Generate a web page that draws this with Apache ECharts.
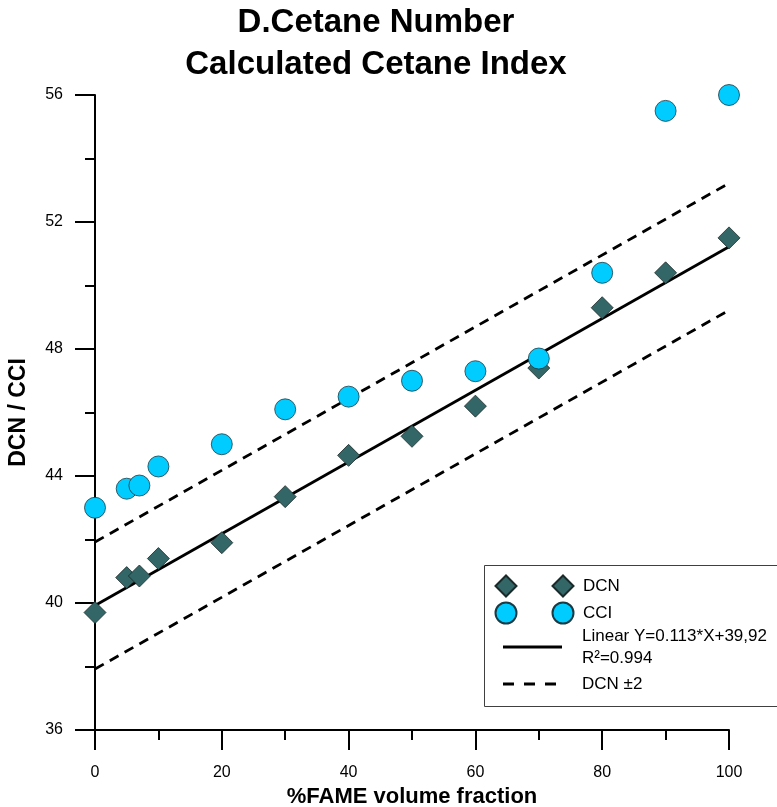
<!DOCTYPE html>
<html>
<head>
<meta charset="utf-8">
<script src="https://cdn.jsdelivr.net/npm/echarts@6/dist/echarts.min.js"></script>
<style>
  html, body { margin: 0; padding: 0; background: #fff; }
  #chart { width: 777px; height: 807px; }
</style>
</head>
<body>
<div id="chart"></div>
<script>
// FAME blend fraction (% vol) and the two cetane measures
const fameFraction = [0, 5, 7, 10, 20, 30, 40, 50, 60, 70, 80, 90, 100];
const dcnValues = [39.7, 40.8, 40.85, 41.4, 41.9, 43.35, 44.65, 45.25, 46.2, 47.4, 49.3, 50.4, 51.5];
const cciValues = [43.0, 43.6, 43.7, 44.3, 45.0, 46.1, 46.5, 47.0, 47.3, 47.7, 50.4, 55.5, 56.0];

// Linear fit of DCN and its +/-2 band
const fitSlope = 0.113;
const fitIntercept = 39.92;
const bandHalfWidth = 2;
const fitRange = [0, 100];

// Axis ticks
const xTicks = [0, 20, 40, 60, 80, 100];
const yTicks = [36, 40, 44, 48, 52, 56];

const FONT = '"Liberation Sans", Arial, Helvetica, sans-serif';
const DCN_COLOR = '#336666';
const CCI_COLOR = '#00CCFF';

const names = {
  dcn: 'DCN',
  cci: 'CCI',
  fit: 'Linear Y=0.113*X+39,92\nR\u00B2=0.994',
  band: 'DCN \u00B12'
};

const pairs = (xs, ys) => xs.map((x, i) => [x, ys[i]]);
const fitAt = (x, off) => [x, +(fitIntercept + fitSlope * x + off).toFixed(4)];

const chart = echarts.init(document.getElementById('chart'), null, { renderer: 'canvas' });

const legendText = { fontFamily: FONT, fontSize: 17, color: '#000' };

chart.setOption({
  backgroundColor: '#fff',
  animation: false,
  title: {
    text: 'D.Cetane Number\nCalculated Cetane Index',
    left: 376,
    top: 2,
    padding: 0,
    textAlign: 'center',
    textStyle: { fontFamily: FONT, fontSize: 33, fontWeight: 'bold', lineHeight: 42, color: '#000' }
  },
  grid: { left: 95, right: 48, top: 95, bottom: 77, containLabel: false, outerBoundsMode: 'none' },
  xAxis: {
    type: 'value',
    min: xTicks[0],
    max: xTicks[xTicks.length - 1],
    interval: xTicks[1] - xTicks[0],
    name: '%FAME volume fraction',
    nameLocation: 'middle',
    nameGap: 55,
    nameTextStyle: { fontFamily: FONT, fontSize: 22, fontWeight: 'bold', color: '#000' },
    axisLine: { onZero: false, lineStyle: { color: '#000', width: 2 } },
    axisTick: { length: 20, lineStyle: { color: '#000', width: 2 } },
    minorTick: { show: true, splitNumber: 2, length: 10, lineStyle: { color: '#000', width: 2 } },
    axisLabel: { margin: 35, fontFamily: FONT, fontSize: 16, color: '#000' },
    splitLine: { show: false }
  },
  yAxis: {
    type: 'value',
    min: yTicks[0],
    max: yTicks[yTicks.length - 1],
    interval: yTicks[1] - yTicks[0],
    name: 'DCN / CCI',
    nameLocation: 'middle',
    nameGap: 65,
    nameTextStyle: { fontFamily: FONT, fontSize: 23, fontWeight: 'bold', color: '#000' },
    axisLine: { onZero: false, lineStyle: { color: '#000', width: 2 } },
    axisTick: { length: 20, lineStyle: { color: '#000', width: 2 } },
    minorTick: { show: true, splitNumber: 2, length: 10, lineStyle: { color: '#000', width: 2 } },
    axisLabel: { margin: 32, fontFamily: FONT, fontSize: 16, color: '#000' },
    splitLine: { show: false }
  },
  graphic: [{
    type: 'rect',
    z: 10,
    shape: { x: 484.5, y: 565.5, width: 320, height: 141 },
    style: { fill: '#fff', stroke: '#404040', lineWidth: 1 }
  }],
  legend: [
    {
      data: [names.dcn], left: 494.5, top: 574.5, padding: 0, z: 20, selectedMode: false,
      icon: 'path://M0,10.5L10.5,0L21,10.5L10.5,21Z M57,10.5L67.5,0L78,10.5L67.5,21Z',
      itemWidth: 78, itemHeight: 21,
      textStyle: Object.assign({ padding: [0, 0, 0, 4.5] }, legendText)
    },
    {
      data: [names.cci], left: 494.5, top: 601.5, padding: 0, z: 20, selectedMode: false,
      icon: 'path://M0,10.5A10.5,10.5,0,1,1,21,10.5A10.5,10.5,0,1,1,0,10.5Z M57,10.5A10.5,10.5,0,1,1,78,10.5A10.5,10.5,0,1,1,57,10.5Z',
      itemWidth: 78, itemHeight: 21,
      textStyle: Object.assign({ padding: [0, 0, 0, 4.5] }, legendText)
    },
    {
      data: [names.fit], left: 503, top: 625, padding: 0, z: 20, selectedMode: false,
      icon: 'path://M0,0H59V3H0Z',
      itemWidth: 59, itemHeight: 3,
      itemStyle: { color: '#000', borderWidth: 0 },
      textStyle: Object.assign({ padding: [0, 0, 0, 15], lineHeight: 22 }, legendText)
    },
    {
      data: [names.band], left: 503, top: 675.5, padding: 0, z: 20, selectedMode: false,
      icon: 'path://M0,0H11V3H0Z M21,0H32V3H21Z M42,0H53V3H42Z',
      itemWidth: 53, itemHeight: 3,
      itemStyle: { color: '#000', borderWidth: 0 },
      textStyle: Object.assign({ padding: [0, 0, 0, 21] }, legendText)
    }
  ],
  series: [
    {
      name: names.fit,
      type: 'line',
      z: 1,
      symbol: 'none',
      color: '#000',
      lineStyle: { color: '#000', width: 2.8 },
      data: fitRange.map(x => fitAt(x, 0))
    },
    {
      name: names.band,
      type: 'line',
      z: 1,
      symbol: 'none',
      color: '#000',
      lineStyle: { color: '#000', width: 2.8, type: [10, 7] },
      data: fitRange.map(x => fitAt(x, bandHalfWidth))
    },
    {
      name: names.band,
      type: 'line',
      z: 1,
      symbol: 'none',
      color: '#000',
      lineStyle: { color: '#000', width: 2.8, type: [10, 7] },
      data: fitRange.map(x => fitAt(x, -bandHalfWidth))
    },
    {
      name: names.dcn,
      type: 'scatter',
      z: 2,
      symbol: 'diamond',
      symbolSize: 22,
      itemStyle: { color: DCN_COLOR, borderColor: '#1a2a2a', borderWidth: 0.8, opacity: 1 },
      data: pairs(fameFraction, dcnValues)
    },
    {
      name: names.cci,
      type: 'scatter',
      z: 3,
      symbol: 'circle',
      symbolSize: 21,
      itemStyle: { color: CCI_COLOR, borderColor: '#1a3a44', borderWidth: 0.8, opacity: 1 },
      data: pairs(fameFraction, cciValues)
    }
  ]
});
</script>
</body>
</html>
